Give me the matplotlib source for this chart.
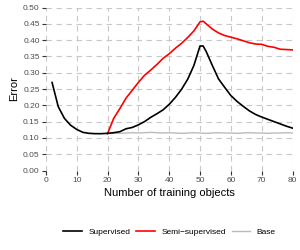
import matplotlib
matplotlib.use("Agg")
import matplotlib.pyplot as plt

plt.rcParams['font.family'] = ['Liberation Sans', 'DejaVu Sans']

# ================= DATA =================
x_sup = [2, 4, 6, 8, 10, 12, 14, 16, 18, 20, 22, 24, 26, 28, 30, 32, 34, 36, 38, 40,
         42, 44, 46, 48, 50, 51, 52, 54, 56, 58, 60, 62, 64, 66, 68, 70, 72, 74, 76, 78, 80]
err_sup = [0.270, 0.196, 0.160, 0.139, 0.126, 0.117, 0.114, 0.113, 0.113, 0.114,
           0.116, 0.119, 0.128, 0.132, 0.140, 0.150, 0.163, 0.174, 0.186, 0.203,
           0.224, 0.249, 0.280, 0.322, 0.382, 0.382, 0.365, 0.322, 0.281, 0.255,
           0.230, 0.212, 0.197, 0.183, 0.172, 0.164, 0.157, 0.150, 0.143, 0.136, 0.130]

x_semi = [20, 22, 24, 26, 28, 30, 32, 34, 36, 38, 40, 42, 44, 46, 48, 50, 51, 52,
          54, 56, 58, 60, 62, 64, 66, 68, 70, 72, 74, 76, 78, 80]
err_semi = [0.113, 0.160, 0.190, 0.222, 0.246, 0.270, 0.292, 0.308, 0.325, 0.344,
            0.358, 0.375, 0.390, 0.408, 0.428, 0.456, 0.458, 0.450, 0.434, 0.422,
            0.414, 0.409, 0.404, 0.398, 0.392, 0.388, 0.387, 0.381, 0.378, 0.372,
            0.371, 0.370]

x_base = list(range(20, 81, 2))
err_base = [0.113, 0.114, 0.114, 0.115, 0.116, 0.115, 0.116, 0.117, 0.116, 0.115,
            0.116, 0.115, 0.114, 0.115, 0.116, 0.115, 0.114, 0.115, 0.116, 0.115,
            0.115, 0.114, 0.115, 0.116, 0.115, 0.115, 0.114, 0.115, 0.115, 0.116, 0.115]

x_ticks = [0, 10, 20, 30, 40, 50, 60, 70, 80]
y_ticks = [0.00, 0.05, 0.10, 0.15, 0.20, 0.25, 0.30, 0.35, 0.40, 0.45, 0.50]

# ================= PLOT =================
fig = plt.figure(figsize=(3, 2.5), dpi=100)
ax = fig.add_axes([0.153, 0.318, 0.822, 0.652])

ax.plot(x_base, err_base, color='#bbbbbb', lw=1.0, label='Base', zorder=2)
ax.plot(x_semi, err_semi, color='red', lw=1.2, label='Semi\u2212supervised', zorder=3)
ax.plot(x_sup, err_sup, color='black', lw=1.2, label='Supervised', zorder=4)

ax.set_xlim(0, 80)
ax.set_ylim(0, 0.5)
ax.set_xticks(x_ticks)
ax.set_yticks(y_ticks)
ax.set_yticklabels([f"{v:.2f}" for v in y_ticks])
ax.grid(True, color='#c8c8c8', linestyle=(0, (5, 4)), lw=0.8, zorder=0)
ax.set_axisbelow(True)
for s in ax.spines.values():
    s.set_visible(False)
ax.tick_params(length=3, width=0.8, color='#333333', labelsize=6,
               labelcolor='#4d4d4d', pad=1.5)

ax.set_xlabel("Number of training objects", fontsize=8, labelpad=3)
ax.set_ylabel("Error", fontsize=8, labelpad=3)

handles, labels = ax.get_legend_handles_labels()
order = [2, 1, 0]
fig.legend([handles[i] for i in order], [labels[i] for i in order],
           loc='lower center', bbox_to_anchor=(0.565, 0.025), ncol=3, frameon=False,
           fontsize=6, handlelength=2.2, handletextpad=0.8, columnspacing=0.7)

fig.savefig("out.png", dpi=100)
